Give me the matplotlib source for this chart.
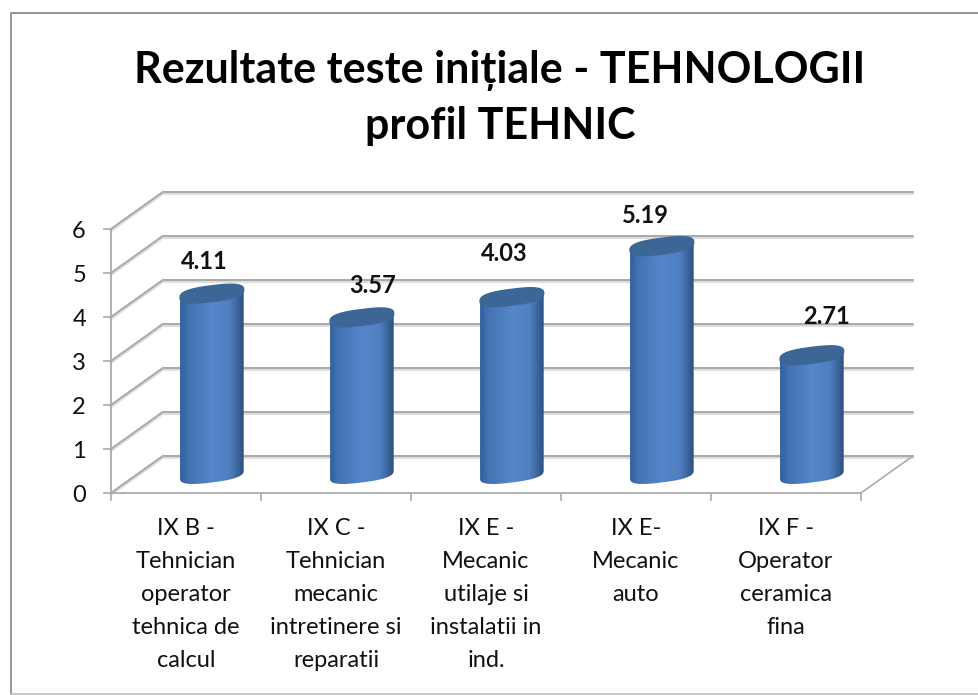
import numpy as np
import matplotlib
matplotlib.use('Agg')
import matplotlib.pyplot as plt
import matplotlib.colors as mcolors
from matplotlib.lines import Line2D
from matplotlib.patches import Polygon

plt.rcParams['font.family'] = ['Lato', 'Open Sans', 'DejaVu Sans']

title = 'Rezultate teste inițiale - TEHNOLOGII\nprofil TEHNIC'
categories = [
    'IX B -\nTehnician\noperator\ntehnica de\ncalcul',
    'IX C -\nTehnician\nmecanic\nintretinere si\nreparatii',
    'IX E -\nMecanic\nutilaje si\ninstalatii in\nind.',
    'IX E-\nMecanic\nauto\n\n',
    'IX F -\nOperator\nceramica\nfina\n',
]
values = [4.11, 3.57, 4.03, 5.19, 2.71]
y_ticks = [0, 1, 2, 3, 4, 5, 6]

# hand placed labels, offset from top of cylinder (in pixels)
label_dx = [-8, 11, -8, -16, 15]
label_dy = [32, 32, 44, 31, 39]

W, H = 979, 695
DPI = 100
fig = plt.figure(figsize=(W / DPI, H / DPI), dpi=DPI)
ax = fig.add_axes([111 / W, 1 - 493 / H, 750 / W, 264 / H])
ax.set_xlim(0, 5)
ax.set_ylim(0, 6)

# depth of the fake 3d box, in data units
DX = 0.345
DY = 0.84
WALL = '#ababab'
SOFT = '#e0e0e0'

for v in y_ticks:
    xs = [0, DX, 5 + DX]
    ys = [v, v + DY, v + DY]
    ax.plot(xs, np.array(ys) - 0.04, color=SOFT, lw=1.8, clip_on=False, zorder=1)
    ax.plot(xs, ys, color=WALL, lw=1.5, clip_on=False, zorder=2)
ax.plot([5, 5 + DX], [0, DY], color=WALL, lw=1.2, clip_on=False, zorder=2)

for s in ('top', 'right'):
    ax.spines[s].set_visible(False)
for s in ('left', 'bottom'):
    ax.spines[s].set_color(WALL)
    ax.spines[s].set_linewidth(1.3)

ax.set_yticks(y_ticks)
ax.set_xticks(range(6))
ax.set_xticklabels([])
ax.set_xticks(np.arange(5) + 0.5, categories, minor=True)
ax.tick_params(axis='y', length=6, width=1.2, color=WALL, pad=12, labelsize=17, labelcolor='#111111')
ax.tick_params(axis='x', which='major', length=6, width=1.2, color=WALL)
ax.tick_params(axis='x', which='minor', length=0, pad=18, labelsize=17, labelcolor='#111111')
for lab in ax.get_xticklabels(minor=True):
    lab.set_linespacing(1.7)

cyl = mcolors.LinearSegmentedColormap.from_list('cyl', [
    (0.0, '#2f5f9c'), (0.12, '#4272b0'), (0.5, '#5587ca'), (0.78, '#4f7fc0'),
    (0.93, '#385f94'), (1.0, '#2d4f7e')])
grad = np.linspace(0, 1, 256).reshape(1, -1)

half_w = 0.212
ell_h = 0.18
tilt = 0.09
ROUND = 0.75  # <1 squares the ellipse off a bit, the original is not a true ellipse
t = np.linspace(0, 2 * np.pi, 180)


def ellipse(cx, cy, ang):
    c = np.sign(np.cos(ang)) * np.abs(np.cos(ang)) ** ROUND
    s = np.sign(np.sin(ang)) * np.abs(np.sin(ang)) ** ROUND
    return cx + half_w * c, cy + ell_h * s + tilt * c


for i, v in enumerate(values):
    cx = i + 0.5 + DX / 2
    y0 = DY / 2
    y1 = y0 + v
    # body: lower half of the bottom ellipse, then up to the top one
    bx, by = ellipse(cx, y0, np.linspace(np.pi, 2 * np.pi, 60))
    outline = np.column_stack([np.r_[bx, bx[::-1]], np.r_[by, by[::-1] + v]])
    body = Polygon(outline, closed=True, transform=ax.transData, fc='none', ec='none')
    ax.add_patch(body)
    im = ax.imshow(grad, cmap=cyl, extent=[cx - half_w, cx + half_w, y0 - 0.4, y1 + 0.4],
                   aspect='auto', zorder=3, clip_on=True)
    im.set_clip_path(body)
    ex, ey = ellipse(cx, y1, t)
    ax.fill(ex, ey, color='#3c6696', zorder=4, clip_on=False)
    ax.annotate(f'{v:.2f}', (cx, y1), xytext=(label_dx[i] * 72 / DPI, label_dy[i] * 72 / DPI),
                textcoords='offset points', ha='center', va='center', fontsize=17,
                fontweight='bold', color='#111111', zorder=6, annotation_clip=False)

ax.set_xlim(0, 5)
ax.set_ylim(0, 6)

fig.text(500 / W, 1 - 98 / H, title, ha='center', va='center', fontsize=31, fontweight='bold',
         color='black', linespacing=1.43)

# outer border
fig.add_artist(Line2D([10.5 / W, 10.5 / W, 1], [1 - 694 / H, 1 - 13 / H, 1 - 13 / H], color='#8c8c8c', lw=1.3))
fig.add_artist(Line2D([10.5 / W, 1], [1 - 694 / H, 1 - 694 / H], color='#c4c4c4', lw=1.3))

fig.savefig('out.png', dpi=DPI)
